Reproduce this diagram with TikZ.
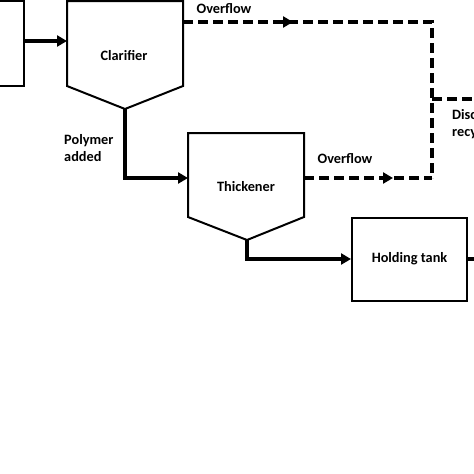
\documentclass[tikz,border=0pt]{standalone}
\usepackage{fontspec}
\setmainfont{Carlito}
\usetikzlibrary{arrows.meta,positioning}

\begin{document}
\begin{tikzpicture}[x=1pt,y=-1pt,
  vessel/.style={line width=2pt},
  tankbox/.style={draw,line width=2pt,inner sep=0pt},
  flow/.style={line width=3.4pt,-{Triangle[length=10pt,width=11pt]}},
  over/.style={line width=3.4pt,dash pattern=on 10pt off 5pt},
  lbl/.style={font=\bfseries\fontsize{14.3}{17}\selectfont}]
\useasboundingbox (0,0) rectangle (474,474);

% feed tank (cut off at the left)
\node[tankbox,minimum width=70,minimum height=85] (feed) at (-11,43.5) {};

% clarifier
\draw[vessel] (67,1) -- (67,86) -- (125,109) coordinate (clarbot) -- (183,86) -- (183,1) -- cycle;
\node[lbl] (clar) at (124,56) {Clarifier};
\coordinate (clarin) at (67,41);
\coordinate (clarout) at (183,22);

% thickener
\draw[vessel] (188,133) -- (188,217) -- (247,240) coordinate (thkbot) -- (304,217) -- (304,133) -- cycle;
\node[lbl] (thk) at (246,187) {Thickener};
\coordinate (thkin) at (188,178);
\coordinate (thkout) at (304,178);

% holding tank
\node[tankbox,lbl,minimum width=115,minimum height=83] (hold) at (409.5,259) {Holding tank};

% junctions of the overflow lines
\coordinate (jtop) at (432,22);
\coordinate (jmid) at (432,99);
\coordinate (jbot) at (432,178);
\coordinate (dischg) at (480,99);
\coordinate (holdout) at (480,259);

% main flow
\draw[flow] (feed.east |- clarin) -- (clarin);
\draw[flow] (clarbot) |- (thkin);
\draw[flow] (thkbot) |- (hold.west);
\draw[line width=3.4pt] (hold.east) -- (holdout);

% overflows
\draw[over] (clarout) -- (jtop) -- (jbot);
\draw[over,-{Triangle[length=10pt,width=11pt]}] (clarout) -- (293,22);
\draw[over] (thkout) -- (jbot);
\draw[over,-{Triangle[length=10pt,width=11pt]}] (thkout) -- (393,178);
\draw[over] (jmid) -- (dischg);

% labels
\node[lbl] (ovf1) at (224,9) {Overflow};
\node[lbl] (ovf2) at (345,159) {Overflow};
\node[lbl,anchor=west,align=left,inner sep=0pt] (poly) at (64,148) {Polymer\\added};
\node[lbl,anchor=west,align=left,inner sep=0pt] (dis) at (452,124) {Discharge/\\recycle};
\end{tikzpicture}
\end{document}
